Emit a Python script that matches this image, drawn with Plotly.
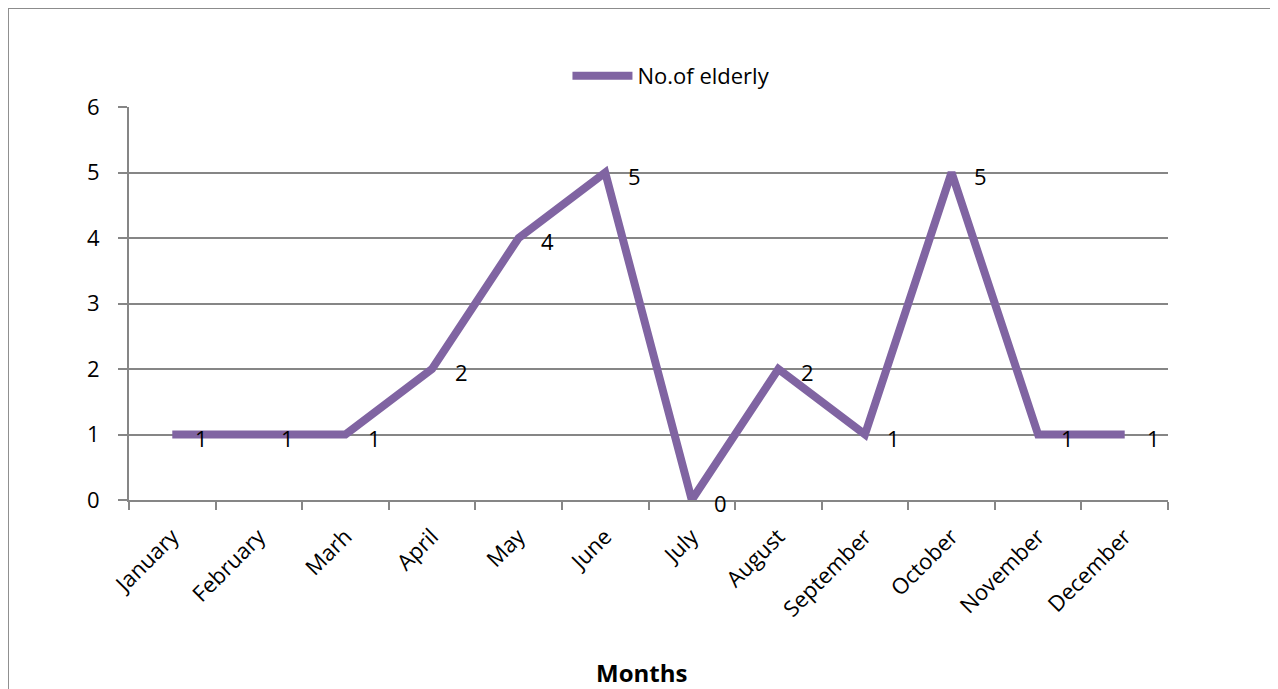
import plotly.graph_objects as go

months = ["January", "February", "Marh", "April", "May", "June", "July",
          "August", "September", "October", "November", "December"]
elderly = [1, 1, 1, 2, 4, 5, 0, 2, 1, 5, 1, 1]
series_name = "No.of elderly"
y_ticks = [0, 1, 2, 3, 4, 5, 6]

FONT = "'Open Sans', sans-serif"
GRID = "#868686"
PURPLE = "#8064A2"
FS = 22

fig = go.Figure()
fig.add_trace(go.Scatter(
    x=months, y=elderly, mode="lines", name=series_name,
    line=dict(color=PURPLE, width=8),
))

annotations = []
for m, v in zip(months, elderly):
    annotations.append(dict(
        x=m, y=v, xref="x", yref="y", text=str(v), showarrow=False,
        xanchor="center", yanchor="middle", xshift=29, yshift=-3,
        font=dict(family=FONT, size=FS, color="black"),
    ))
annotations.append(dict(
    x=0.4928, y=-0.44, xref="paper", yref="paper", text="<b>Months</b>",
    showarrow=False, xanchor="center", yanchor="middle",
    font=dict(family=FONT, size=24, color="black"),
))

fig.update_layout(
    width=1270, height=681,
    margin=dict(l=121, r=110, t=99, b=189),
    paper_bgcolor="white", plot_bgcolor="white",
    font=dict(family=FONT, size=FS, color="black"),
    showlegend=True,
    legend=dict(orientation="h", x=0.422, y=1.079, xanchor="left", yanchor="middle",
                font=dict(family=FONT, size=FS, color="black"),
                itemwidth=60, bgcolor="rgba(0,0,0,0)"),
    annotations=annotations,
    shapes=[dict(type="rect", xref="paper", yref="paper",
                 x0=-0.1165, x1=1.1025, y0=-0.6, y1=1.252,
                 line=dict(color="#8c8c8c", width=2), fillcolor="rgba(0,0,0,0)",
                 layer="below")],
    xaxis=dict(
        type="category", range=[-0.5, 11.5], tickangle=-45,
        showgrid=False, showline=True, linecolor=GRID, linewidth=2,
        ticks="outside", tickson="boundaries", ticklen=8, tickcolor=GRID, tickwidth=2,
        tickfont=dict(family=FONT, size=FS, color="black"),
        ticklabelstandoff=13, zeroline=False,
    ),
    yaxis=dict(
        range=[0, 6], tickvals=y_ticks, showgrid=True, gridcolor=GRID, gridwidth=1.5,
        showline=True, linecolor=GRID, linewidth=2,
        ticks="outside", ticklen=9, tickcolor=GRID, tickwidth=2,
        tickfont=dict(family=FONT, size=FS, color="black"),
        ticklabelstandoff=14, zeroline=False,
    ),
)

fig.write_html("out.html")
